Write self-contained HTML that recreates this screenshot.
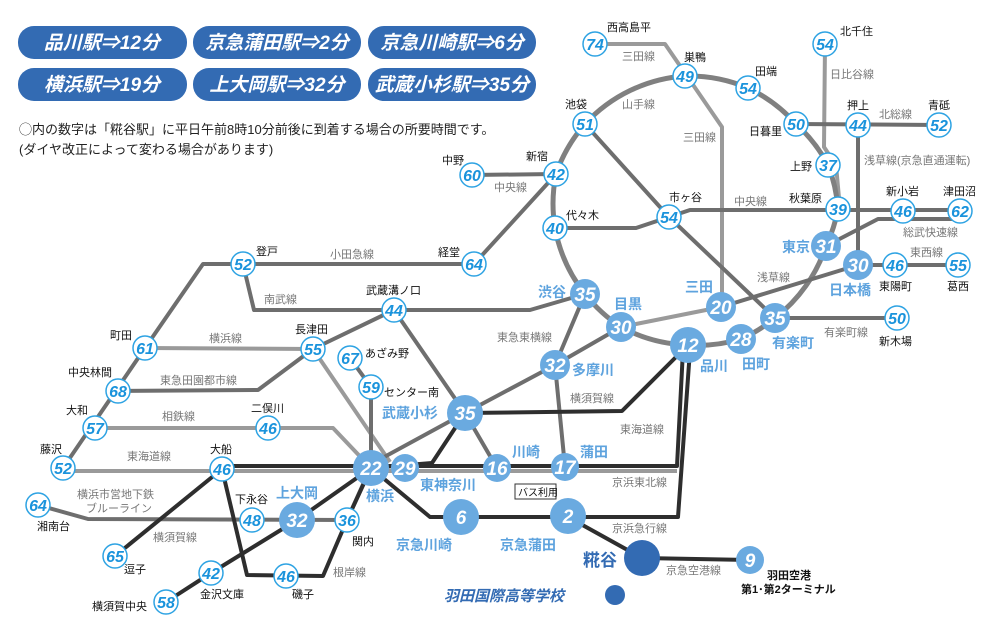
<!DOCTYPE html>
<html><head><meta charset="utf-8"><style>
body{margin:0;background:#fff;width:999px;height:640px;overflow:hidden}
svg{display:block;font-family:"Liberation Sans","Noto Sans CJK JP",sans-serif}
.p{fill:#336bb3}
.pt{fill:#fff;font-size:19px;font-weight:bold;font-style:italic;text-anchor:middle}
.s circle{fill:#fff;stroke:#2ea3e3;stroke-width:1.5}
.s text{fill:#1a93dc;font-size:16px;font-weight:bold;font-style:italic;text-anchor:middle}
.b circle{fill:#6aaae0}
.b text{fill:#fff;font-size:19px;font-weight:bold;font-style:italic;text-anchor:middle}
.n{font-size:11px;fill:#111}
.l{font-size:11px;fill:#777}
.bl{font-size:14px;fill:#5ea3de;font-weight:bold}
line,polyline,path{fill:none;stroke-linejoin:round}
</style></head><body>
<svg width="999" height="640" viewBox="0 0 999 640">
<g>
<rect class="p" x="18" y="26" width="169" height="33" rx="16"/><text class="pt" x="102" y="49">品川駅⇒12分</text>
<rect class="p" x="193" y="26" width="168" height="33" rx="16"/><text class="pt" x="277" y="49">京急蒲田駅⇒2分</text>
<rect class="p" x="368" y="26" width="168" height="33" rx="16"/><text class="pt" x="452" y="49">京急川崎駅⇒6分</text>
<rect class="p" x="18" y="68" width="169" height="33" rx="16"/><text class="pt" x="102" y="91">横浜駅⇒19分</text>
<rect class="p" x="193" y="68" width="168" height="33" rx="16"/><text class="pt" x="277" y="91">上大岡駅⇒32分</text>
<rect class="p" x="368" y="68" width="168" height="33" rx="16"/><text class="pt" x="452" y="91">武蔵小杉駅⇒35分</text>
</g>
<text x="19" y="134" font-size="13" fill="#222">◯内の数字は「糀谷駅」に平日午前8時10分前後に到着する場合の所要時間です。</text>
<text x="19" y="154" font-size="13" fill="#222">(ダイヤ改正によって変わる場合があります)</text>

<g stroke="#9a9a9a" stroke-width="4">
<polyline points="595,44 665,44 722,127 722,307"/>
<polyline points="825,44 824,147 836,165 840,209"/>
<polyline points="721,307 621,327"/>
<polyline points="145,348 313,349 390,462"/>
<polyline points="95,428 333,428 371,468"/>
<polyline points="63,471 222,471 677,471"/>
</g>
<path stroke="#808080" stroke-width="5" d="M685,76 A150 150 0 0 1 748,88 A150 150 0 0 1 796,124 A150 150 0 0 1 828,165 A150 150 0 0 1 838,209 A150 150 0 0 1 826,246 A150 150 0 0 1 775,318 A150 150 0 0 1 741,339 A150 150 0 0 1 688,345 A150 150 0 0 1 621,327 A150 150 0 0 1 585,294 A150 150 0 0 1 555,228 A150 150 0 0 1 556,174 A150 150 0 0 1 585,124 A150 150 0 0 1 685,76"/>
<g stroke="#6e6e6e" stroke-width="4">
<polyline points="796,124 939,125"/>
<polyline points="858,125 858,265 721,307"/>
<polyline points="472,175 556,174"/>
<polyline points="555,228 636,228 669,217 690,210 960,210"/>
<polyline points="826,246 878,219 960,219"/>
<polyline points="858,265 958,265"/>
<polyline points="585,124 669,217 775,318 897,318"/>
<polyline points="548,183 474,264 203,264 145,348 63,468"/>
<polyline points="243,264 254,310 530,310 585,294"/>
<polyline points="394,310 313,349 258,390 118,391"/>
<polyline points="394,310 465,413 497,468"/>
<polyline points="38,505 88,519 347,520 365,480"/>
<polyline points="585,294 555,365 465,413 375,462"/>
<polyline points="621,327 555,365 565,467"/>
<polyline points="350,358 371,387 371,468"/>
</g>
<g stroke="#2e2e2e" stroke-width="4">
<polyline points="222,466 677,466 683,350"/>
<polyline points="371,468 430,517 678,517 690,350"/>
<polyline points="568,517 642,558 750,560"/>
<polyline points="371,468 432,463 465,413"/>
<polyline points="465,413 622,411 688,345"/>
<polyline points="222,469 115,556"/>
<polyline points="222,469 247,575 323,576 347,520 371,468"/>
<polyline points="371,468 297,520 211,573 166,602"/>
</g>

<g class="s">
<circle cx="595" cy="44" r="12"/><text x="595" y="50">74</text>
<circle cx="685" cy="76" r="12"/><text x="685" y="82">49</text>
<circle cx="748" cy="88" r="12"/><text x="748" y="94">54</text>
<circle cx="796" cy="124" r="12"/><text x="796" y="130">50</text>
<circle cx="858" cy="125" r="12"/><text x="858" y="131">44</text>
<circle cx="939" cy="125" r="12"/><text x="939" y="131">52</text>
<circle cx="825" cy="44" r="12"/><text x="825" y="50">54</text>
<circle cx="828" cy="165" r="12"/><text x="828" y="171">37</text>
<circle cx="838" cy="209" r="12"/><text x="838" y="215">39</text>
<circle cx="903" cy="211" r="12"/><text x="903" y="217">46</text>
<circle cx="960" cy="211" r="12"/><text x="960" y="217">62</text>
<circle cx="895" cy="265" r="12"/><text x="895" y="271">46</text>
<circle cx="958" cy="265" r="12"/><text x="958" y="271">55</text>
<circle cx="585" cy="124" r="12"/><text x="585" y="130">51</text>
<circle cx="556" cy="174" r="12"/><text x="556" y="180">42</text>
<circle cx="555" cy="228" r="12"/><text x="555" y="234">40</text>
<circle cx="669" cy="217" r="12"/><text x="669" y="223">54</text>
<circle cx="472" cy="175" r="12"/><text x="472" y="181">60</text>
<circle cx="474" cy="264" r="12"/><text x="474" y="270">64</text>
<circle cx="243" cy="264" r="12"/><text x="243" y="270">52</text>
<circle cx="394" cy="310" r="12"/><text x="394" y="316">44</text>
<circle cx="897" cy="318" r="12"/><text x="897" y="324">50</text>
<circle cx="350" cy="358" r="12"/><text x="350" y="364">67</text>
<circle cx="371" cy="387" r="12"/><text x="371" y="393">59</text>
<circle cx="145" cy="348" r="12"/><text x="145" y="354">61</text>
<circle cx="313" cy="349" r="12"/><text x="313" y="355">55</text>
<circle cx="118" cy="391" r="12"/><text x="118" y="397">68</text>
<circle cx="95" cy="428" r="12"/><text x="95" y="434">57</text>
<circle cx="268" cy="428" r="12"/><text x="268" y="434">46</text>
<circle cx="63" cy="468" r="12"/><text x="63" y="474">52</text>
<circle cx="222" cy="469" r="12"/><text x="222" y="475">46</text>
<circle cx="38" cy="505" r="12"/><text x="38" y="511">64</text>
<circle cx="252" cy="520" r="12"/><text x="252" y="526">48</text>
<circle cx="347" cy="520" r="12"/><text x="347" y="526">36</text>
<circle cx="115" cy="556" r="12"/><text x="115" y="562">65</text>
<circle cx="211" cy="573" r="12"/><text x="211" y="579">42</text>
<circle cx="286" cy="576" r="12"/><text x="286" y="582">46</text>
<circle cx="166" cy="602" r="12"/><text x="166" y="608">58</text>
</g>
<g class="b">
<circle cx="826" cy="246" r="15"/><text x="826" y="253">31</text>
<circle cx="858" cy="265" r="15"/><text x="858" y="272">30</text>
<circle cx="585" cy="294" r="15"/><text x="585" y="301">35</text>
<circle cx="721" cy="307" r="15"/><text x="721" y="314">20</text>
<circle cx="621" cy="327" r="15"/><text x="621" y="334">30</text>
<circle cx="688" cy="345" r="18"/><text x="688" y="352">12</text>
<circle cx="741" cy="339" r="15"/><text x="741" y="346">28</text>
<circle cx="775" cy="318" r="15"/><text x="775" y="325">35</text>
<circle cx="555" cy="365" r="15"/><text x="555" y="372">32</text>
<circle cx="465" cy="413" r="18"/><text x="465" y="420">35</text>
<circle cx="371" cy="468" r="18"/><text x="371" y="475">22</text>
<circle cx="405" cy="468" r="14"/><text x="405" y="475">29</text>
<circle cx="497" cy="468" r="14"/><text x="497" y="475">16</text>
<circle cx="565" cy="467" r="14"/><text x="565" y="474">17</text>
<circle cx="461" cy="517" r="18"/><text x="461" y="524">6</text>
<circle cx="568" cy="516" r="18"/><text x="568" y="523">2</text>
<circle cx="297" cy="520" r="18"/><text x="297" y="527">32</text>
<circle cx="750" cy="560" r="14"/><text x="750" y="567">9</text>
</g>
<circle cx="642" cy="558" r="18" fill="#336bb3"/>
<circle cx="615" cy="595" r="10" fill="#336bb3"/>

<g class="n">
<text x="607" y="31">西高島平</text><text x="684" y="61">巣鴨</text><text x="755" y="75">田端</text>
<text x="840" y="35">北千住</text><text x="749" y="135">日暮里</text><text x="847" y="109">押上</text>
<text x="928" y="109">青砥</text><text x="790" y="170">上野</text><text x="789" y="202">秋葉原</text>
<text x="886" y="195">新小岩</text><text x="943" y="195">津田沼</text><text x="879" y="290">東陽町</text>
<text x="947" y="290">葛西</text><text x="565" y="108">池袋</text><text x="526" y="160">新宿</text>
<text x="566" y="219">代々木</text><text x="669" y="201">市ヶ谷</text><text x="442" y="164">中野</text>
<text x="438" y="256">経堂</text><text x="256" y="255">登戸</text><text x="366" y="294">武蔵溝ノ口</text>
<text x="879" y="345">新木場</text><text x="365" y="357">あざみ野</text><text x="384" y="396">センター南</text>
<text x="110" y="339">町田</text><text x="295" y="333">長津田</text><text x="68" y="376">中央林間</text>
<text x="66" y="414">大和</text><text x="251" y="412">二俣川</text><text x="40" y="453">藤沢</text>
<text x="210" y="453">大船</text><text x="37" y="530">湘南台</text><text x="235" y="503">下永谷</text>
<text x="352" y="545">関内</text><text x="124" y="573">逗子</text><text x="200" y="598">金沢文庫</text>
<text x="292" y="598">磯子</text><text x="92" y="610">横須賀中央</text>
<text x="767" y="579" font-weight="bold">羽田空港</text><text x="741" y="593" font-weight="bold">第1･第2ターミナル</text>
</g>
<g class="l">
<text x="622" y="60">三田線</text><text x="622" y="108">山手線</text><text x="683" y="141">三田線</text>
<text x="830" y="78">日比谷線</text><text x="879" y="118">北総線</text><text x="864" y="164">浅草線(京急直通運転)</text>
<text x="734" y="205">中央線</text><text x="903" y="236">総武快速線</text><text x="910" y="256">東西線</text>
<text x="757" y="281">浅草線</text><text x="824" y="336">有楽町線</text><text x="494" y="191">中央線</text>
<text x="330" y="258">小田急線</text><text x="264" y="303">南武線</text><text x="497" y="341">東急東横線</text>
<text x="570" y="402">横須賀線</text><text x="620" y="433">東海道線</text><text x="612" y="486">京浜東北線</text>
<text x="612" y="532">京浜急行線</text><text x="666" y="574">京急空港線</text>
<text x="209" y="342">横浜線</text><text x="160" y="384">東急田園都市線</text><text x="162" y="420">相鉄線</text>
<text x="127" y="460">東海道線</text><text x="77" y="498">横浜市営地下鉄</text><text x="86" y="512">ブルーライン</text>
<text x="153" y="541">横須賀線</text><text x="333" y="576">根岸線</text>
</g>
<g class="bl">
<text x="538" y="297">渋谷</text><text x="614" y="309">目黒</text><text x="685" y="292">三田</text>
<text x="782" y="252">東京</text><text x="829" y="295">日本橋</text><text x="700" y="371">品川</text>
<text x="742" y="369">田町</text><text x="772" y="348">有楽町</text><text x="572" y="375">多摩川</text>
<text x="382" y="418">武蔵小杉</text><text x="512" y="457">川崎</text><text x="580" y="457">蒲田</text>
<text x="420" y="490">東神奈川</text><text x="366" y="501">横浜</text><text x="276" y="498">上大岡</text>
<text x="396" y="550">京急川崎</text><text x="500" y="550">京急蒲田</text>
<text x="583" y="566" fill="#336bb3" font-size="17">糀谷</text>
<text x="444" y="601" fill="#336bb3" font-size="15" font-style="italic">羽田国際高等学校</text>
</g>
<rect x="515" y="484" width="41" height="15" fill="#fff" stroke="#333" stroke-width="1"/>
<text x="518" y="496" font-size="10" fill="#111">バス利用</text>
</svg>
</body></html>
